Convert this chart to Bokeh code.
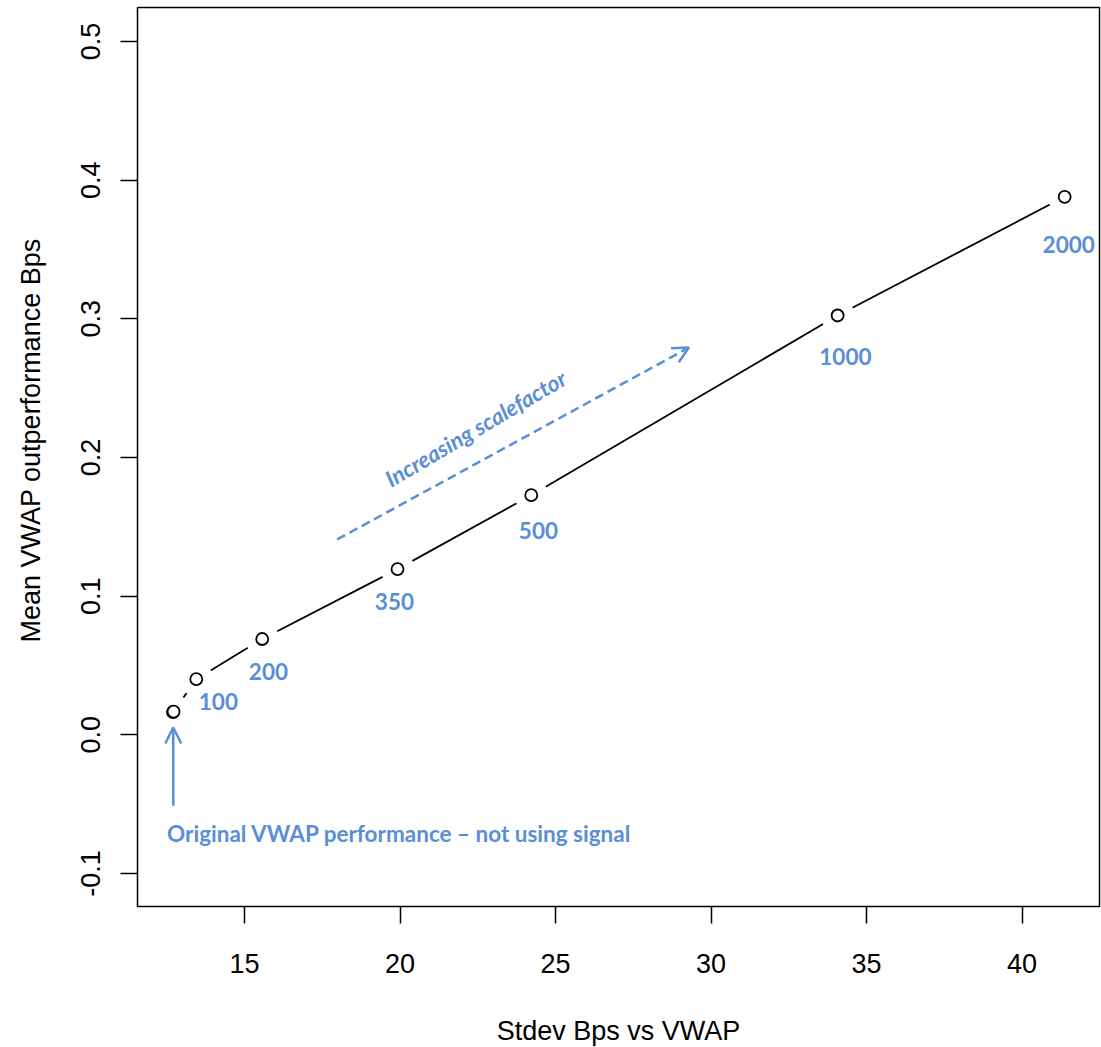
from bokeh.plotting import figure
from bokeh.models import Range1d, FixedTicker, PrintfTickFormatter, Arrow, OpenHead, Label, Title
from bokeh.core.properties import value
from bokeh.embed import file_html
from bokeh.resources import INLINE

# ---- data ----
stdev_bps = [12.70, 12.72, 13.45, 15.57, 19.92, 24.22, 34.07, 41.37]
mean_outperf = [0.0164, 0.0168, 0.0401, 0.0691, 0.1195, 0.1728, 0.3024, 0.3880]
scale_labels = ["100", "200", "350", "500", "1000", "2000"]
label_x = [14.16, 15.77, 19.82, 24.45, 34.32, 41.50]
label_y = [0.0238, 0.0454, 0.0958, 0.1476, 0.2729, 0.3535]
x_ticks = [15, 20, 25, 30, 35, 40]
y_ticks = [-0.1, 0.0, 0.1, 0.2, 0.3, 0.4, 0.5]

BLUE = "#5A8ED6"
AX_FONT = "Liberation Sans"
ANN_FONT = "Lato"
ANN_SIZE = "22.5px"

p = figure(
    frame_width=962, frame_height=899,
    min_border_left=137, min_border_right=2, min_border_top=7, min_border_bottom=139,
    x_range=Range1d(11.56, 42.49), y_range=Range1d(-0.1238, 0.5245),
    output_backend="svg", toolbar_location=None,
    background_fill_color="white", border_fill_color="white",
)
p.grid.visible = False
p.outline_line_color = "black"
p.outline_line_width = 1.5

for ax in (p.xaxis[0], p.yaxis[0]):
    ax.axis_line_color = None
    ax.major_tick_out = 17
    ax.major_tick_in = 0
    ax.major_tick_line_width = 1.5
    ax.major_tick_line_color = "black"
    ax.minor_tick_line_color = None
    ax.major_label_text_font = AX_FONT
    ax.major_label_text_font_size = "27px"
    ax.major_label_text_color = "black"
    ax.axis_label_text_font = AX_FONT
    ax.axis_label_text_font_size = "27px"
    ax.axis_label_text_font_style = "normal"
    ax.axis_label_text_color = "black"

p.xaxis.ticker = FixedTicker(ticks=x_ticks)
p.yaxis.ticker = FixedTicker(ticks=y_ticks)
p.yaxis.formatter = PrintfTickFormatter(format="%.1f")
p.xaxis.formatter = PrintfTickFormatter(format="%d")
p.yaxis.major_label_orientation = "parallel"
p.xaxis.major_label_standoff = 30
p.yaxis.major_label_standoff = 20
p.xaxis.axis_label = "Stdev Bps vs VWAP"
p.xaxis.axis_label_standoff = 40
# blank spacer label so the side title sits further out, as in R
p.yaxis.axis_label = " "
p.yaxis.axis_label_text_font_size = "1px"
p.yaxis.axis_label_standoff = 19

# y-axis title as a side title, so it can sit slightly above the frame centre (like R)
p.add_layout(Title(text="Mean VWAP outperformance Bps", align="left", offset=264,
                   standoff=20, text_font=AX_FONT, text_font_size="27px",
                   text_font_style="normal", text_color="black"), "left")

# line with R-style gaps around points (type = "b")
p.line(stdev_bps, mean_outperf, line_color="black", line_width=1.8)
p.scatter(stdev_bps, mean_outperf, size=34, fill_color="white", line_color=None)
p.scatter(stdev_bps, mean_outperf, size=12, fill_color="white", line_color="black", line_width=1.8)

# scalefactor labels
p.text(x=label_x, y=label_y, text=scale_labels, text_font=value(ANN_FONT),
       text_font_style="bold", text_font_size=ANN_SIZE, text_color=BLUE,
       text_align="center", text_baseline="middle")

# dashed "increasing scalefactor" arrow
p.add_layout(Arrow(end=OpenHead(size=16, line_color=BLUE, line_width=2.5),
                   x_start=17.98, y_start=0.1409, x_end=29.29, y_end=0.2793,
                   line_color=BLUE, line_width=2.5, line_dash="9 5"))
p.add_layout(Label(x=22.43, y=0.221, text="Increasing scalefactor", angle=30.5,
                   angle_units="deg", text_align="center", text_baseline="middle",
                   text_font=ANN_FONT, text_font_style="bold italic",
                   text_font_size=ANN_SIZE, text_color=BLUE))

# original performance arrow
p.add_layout(Arrow(end=OpenHead(size=16, line_color=BLUE, line_width=2.5),
                   x_start=12.71, y_start=-0.0511, x_end=12.71, y_end=0.0053,
                   line_color=BLUE, line_width=2.5))
p.add_layout(Label(x=12.51, y=-0.0713, text="Original VWAP performance \u2013 not using signal",
                   text_align="left", text_baseline="middle",
                   text_font=ANN_FONT, text_font_style="bold",
                   text_font_size=ANN_SIZE, text_color=BLUE))

open("out.html", "w").write(file_html(p, INLINE))
